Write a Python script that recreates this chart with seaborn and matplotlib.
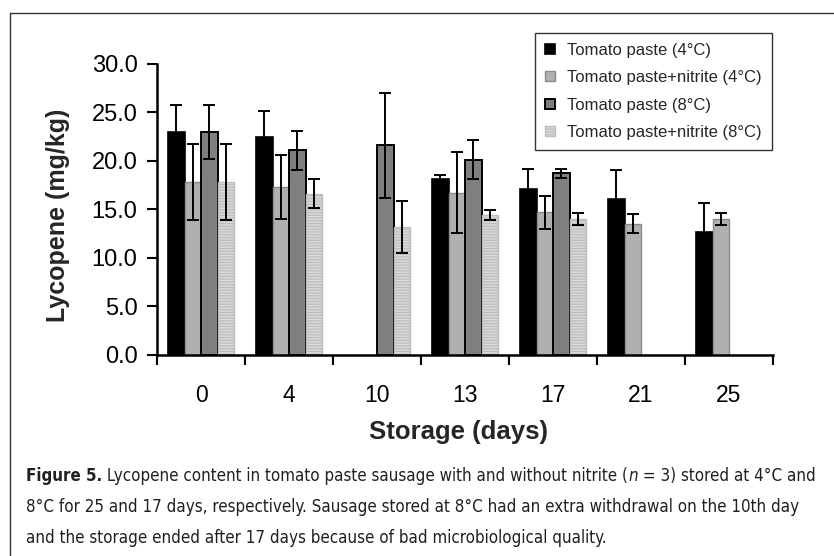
import numpy as np
import pandas as pd
import matplotlib
matplotlib.use("Agg")
import matplotlib.pyplot as plt
import seaborn as sns
from matplotlib.lines import Line2D
from matplotlib.container import BarContainer
from matplotlib import font_manager

# ---------------- data ----------------
days = ["0", "4", "10", "13", "17", "21", "25"]
series = ["Tomato paste (4°C)", "Tomato paste+nitrite (4°C)",
          "Tomato paste (8°C)", "Tomato paste+nitrite (8°C)"]
nan = np.nan
tp_4 = [23.0, 22.5, nan, 18.1, 17.1, 16.1, 12.7]
tp_4_sd = [2.8, 2.6, nan, 0.45, 2.1, 3.0, 2.9]
tpn_4 = [17.8, 17.3, nan, 16.7, 14.7, 13.5, 14.0]
tpn_4_sd = [3.9, 3.3, nan, 4.2, 1.7, 1.0, 0.65]
tp_8 = [23.0, 21.1, 21.6, 20.1, 18.7, nan, nan]
tp_8_sd = [2.8, 2.0, 5.4, 2.0, 0.45, nan, nan]
tpn_8 = [17.8, 16.6, 13.2, 14.4, 14.0, nan, nan]
tpn_8_sd = [3.9, 1.5, 2.7, 0.5, 0.65, nan, nan]
y_ticks = [0, 5, 10, 15, 20, 25, 30]
caption_1 = [("Figure 5.", "bold", "normal"),
             (" Lycopene content in tomato paste sausage with and without nitrite (", "normal", "normal"),
             ("n", "normal", "italic"),
             (" = 3) stored at 4°C and", "normal", "normal")]
caption_2 = "8°C for 25 and 17 days, respectively. Sausage stored at 8°C had an extra withdrawal on the 10th day"
caption_3 = "and the storage ended after 17 days because of bad microbiological quality."

values = [tp_4, tpn_4, tp_8, tpn_8]
sds = [tp_4_sd, tpn_4_sd, tp_8_sd, tpn_8_sd]

rows = []
for s, v, e in zip(series, values, sds):
    for d, val, err in zip(days, v, e):
        if not np.isnan(val):
            rows.append({"day": d, "series": s, "lyc": val, "sd": err})
df = pd.DataFrame(rows)

# ---------------- style ----------------
face = {series[0]: "#000000", series[1]: "#b0b0b0",
        series[2]: "#7f7f7f", series[3]: "#dadada"}
edge = {series[0]: "#000000", series[1]: "#8a8a8a",
        series[2]: "#000000", series[3]: "#bdbdbd"}
elw = {series[0]: 1.2, series[1]: 1.0, series[2]: 1.4, series[3]: 1.0}

sns.set_style("ticks")
plt.rcParams["font.family"] = ["Liberation Sans", "DejaVu Sans"]
plt.rcParams["hatch.linewidth"] = 0.9

fig = plt.figure(figsize=(8.34, 5.56), dpi=100)
ax = fig.add_axes([157 / 834, 1 - 354.5 / 556, 616 / 834, 290.5 / 556])

sns.barplot(data=df, x="day", y="lyc", hue="series", order=days,
            hue_order=series, palette=face, saturation=1, width=0.75,
            errorbar=None, ax=ax, legend=False)

bar_conts = [c for c in ax.containers if isinstance(c, BarContainer)]
handles = []
for i, cont in enumerate(bar_conts):
    s = series[i]
    sub = df[df["series"] == s]
    for p in cont.patches:
        p.set_edgecolor(edge[s])
        p.set_linewidth(elw[s])
        if i == 3:
            p.set_hatch("------")
            try:
                p.set_hatchcolor("white")
            except AttributeError:
                pass
        cx = p.get_x() + p.get_width() / 2
        d = days[int(round(cx))]
        r = sub[sub["day"] == d].iloc[0]
        ax.errorbar(cx, r["lyc"], yerr=r["sd"], fmt="none", ecolor="black",
                    elinewidth=1.4, capsize=4.6, capthick=1.4, zorder=5)
    handles.append(cont.patches[0])

ax.set_ylim(0, 30)
ax.set_xlim(-0.5, 6.5)
ax.set_yticks(y_ticks)
ax.set_yticklabels([f"{t:.1f}" for t in y_ticks])
ax.set_xticks(range(len(days)))
ax.set_xticklabels(days)
ax.set_xticks(np.arange(-0.5, len(days)), minor=True)
ax.tick_params(axis="x", which="major", length=0, pad=21, labelsize=16.5, colors="black")
ax.tick_params(axis="x", which="minor", length=7, width=1.5, direction="out", color="black")
ax.tick_params(axis="y", which="major", length=7, width=1.5, direction="out", pad=7,
               labelsize=17, colors="black")
for sp in ["top", "right"]:
    ax.spines[sp].set_visible(False)
for sp in ["left", "bottom"]:
    ax.spines[sp].set_linewidth(1.8)
    ax.spines[sp].set_color("black")

ax.set_ylabel("Lycopene (mg/kg)", fontsize=18, fontweight="bold")
ax.set_xlabel("Storage (days)", fontsize=18.5, fontweight="bold")
ax.yaxis.set_label_coords(-0.141, 0.478)
ax.xaxis.set_label_coords(0.49, -0.225)
ax.xaxis.label.set_va("top")

leg = ax.legend(handles, series, loc="upper right", bbox_to_anchor=(0.998, 1.107),
                borderaxespad=0, fontsize=12, frameon=True, fancybox=False,
                handlelength=0.55, handleheight=0.55, handletextpad=0.75,
                labelspacing=0.74, borderpad=0.6)
leg.get_frame().set_edgecolor("black")
leg.get_frame().set_linewidth(1.0)

# ---------------- frame lines ----------------
fig.add_artist(Line2D([10 / 834, 1.0], [1 - 13 / 556, 1 - 13 / 556],
                      transform=fig.transFigure, color="#333333", lw=1.0))
fig.add_artist(Line2D([10 / 834, 10 / 834], [0.0, 1 - 13 / 556],
                      transform=fig.transFigure, color="#333333", lw=1.0))

# ---------------- caption ----------------
names = {f.name for f in font_manager.fontManager.ttflist}
if "Liberation Sans Narrow" in names:
    cfam, cstretch = ["Liberation Sans Narrow", "DejaVu Sans"], "normal"
else:
    cfam, cstretch = ["DejaVu Sans"], "condensed"

renderer = fig.canvas.get_renderer()
W = fig.bbox.width
x0 = 26 / 834
target = (817 - 26)


def runs_width(runs, size):
    total = 0.0
    for txt, wt, st in runs:
        t = fig.text(0, 0, txt, fontsize=size, family=cfam, fontstretch=cstretch,
                     fontweight=wt, fontstyle=st)
        total += t.get_window_extent(renderer).width
        t.remove()
    return total


w1 = runs_width(caption_1, 10)
w2 = runs_width([(caption_2, "normal", "normal")], 10)
csize = 10 * target / max(w1, w2)


def put_runs(y_px, runs):
    x = x0
    for txt, wt, st in runs:
        t = fig.text(x, 1 - y_px / 556, txt, fontsize=csize, family=cfam,
                     fontstretch=cstretch, fontweight=wt, fontstyle=st,
                     va="baseline", ha="left", color="#231f20")
        bb = t.get_window_extent(renderer)
        x = bb.x1 / W


put_runs(481, caption_1)
put_runs(512, [(caption_2, "normal", "normal")])
put_runs(543, [(caption_3, "normal", "normal")])

fig.savefig("out.png", dpi=100)
